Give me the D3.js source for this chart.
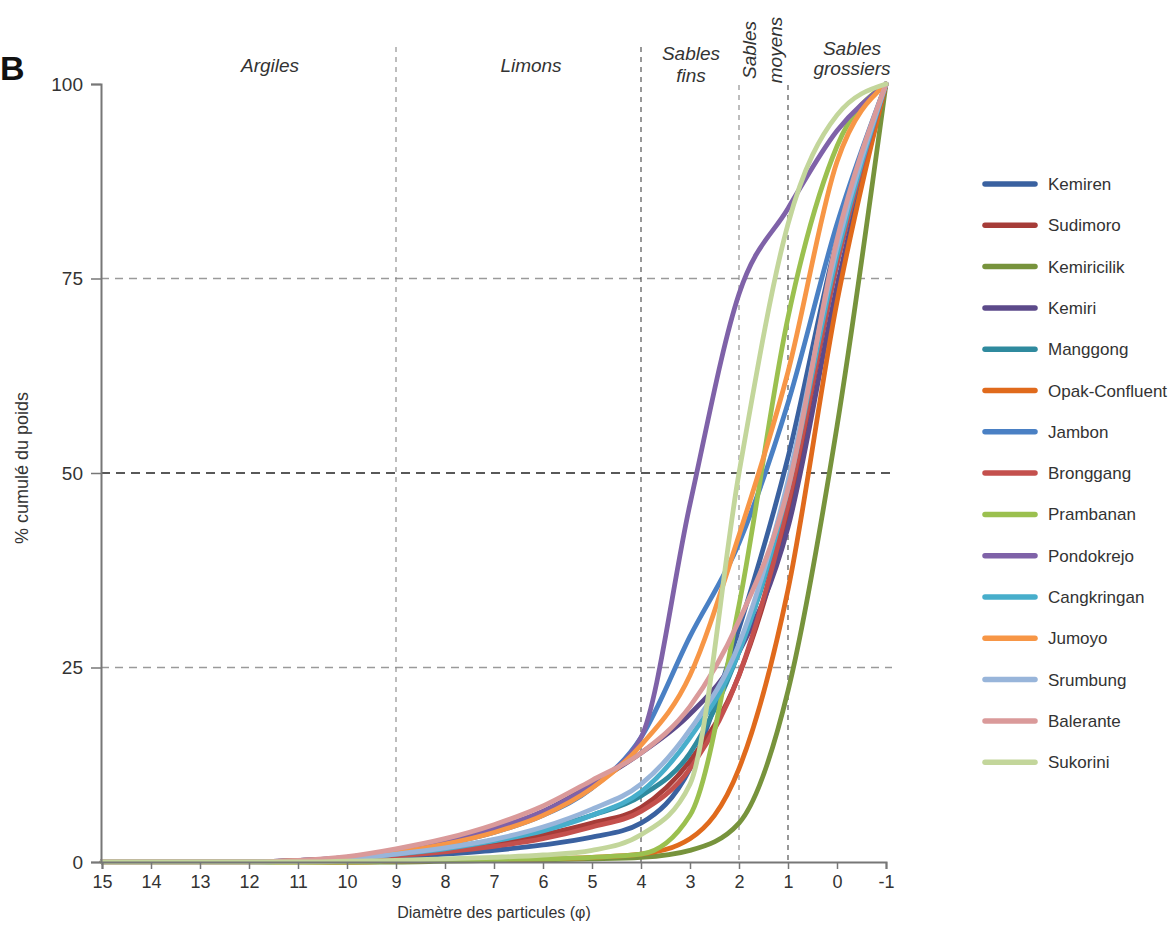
<!DOCTYPE html>
<html><head><meta charset="utf-8">
<script src="https://cdn.jsdelivr.net/npm/d3@7"></script>
<style>
html,body{margin:0;padding:0;background:#fff;}
text{font-family:"Liberation Sans",Arial,sans-serif;}
</style></head>
<body>
<svg id="chart" width="1173" height="933"></svg>
<script>
const phi = [15,14,13,12,11,10,9,8,7,6,5,4,3,2,1,0,-1];
const seriesNames = ["Kemiren","Sudimoro","Kemiricilik","Kemiri","Manggong","Opak-Confluent","Jambon","Bronggang","Prambanan","Pondokrejo","Cangkringan","Jumoyo","Srumbung","Balerante","Sukorini"];
const seriesColors = ["#3A61A0","#A63C38","#77933C","#5C4A8A","#2F8A9E","#E06A1C","#4A80C4","#C4504D","#9BC04F","#7F62A8","#47AECB","#F79646","#98B5DA","#DA9A9A","#C3D69B"];
const kemiren        = [0,0,0,0,0.1,0.3,0.6,1,1.5,2.2,3.2,5,12,30,52,80,100];
const sudimoro       = [0,0,0,0,0.1,0.4,0.9,1.5,2.3,3.5,5,7,13,24,45,77,100];
const kemiricilik    = [0,0,0,0,0,0,0,0.1,0.2,0.3,0.4,0.6,1.5,5,22,56,100];
const kemiri         = [0,0,0,0,0.2,0.6,1.5,2.7,4.2,6.5,10,14,19,27,43,74,100];
const manggong       = [0,0,0,0,0.1,0.4,1,1.8,2.8,4.2,6,8.5,14,27,47,77,100];
const opakConfluent  = [0,0,0,0,0,0,0.1,0.2,0.3,0.4,0.6,1,3,12,35,72,100];
const jambon         = [0,0,0,0,0.2,0.5,1.2,2.3,3.8,6,9.5,16,29,41,59,82,100];
const bronggang      = [0,0,0,0,0.1,0.3,0.8,1.3,2,3,4.5,6.5,12,24,46,77,100];
const prambanan      = [0,0,0,0,0,0,0.1,0.2,0.3,0.4,0.6,1,6,33,70,92,100];
const pondokrejo     = [0,0,0,0,0.2,0.6,1.5,2.7,4.3,6.5,10,16,46,73,84,94,100];
const cangkringan    = [0,0,0,0,0.1,0.4,1,1.7,2.7,4,6,9,16,27,48,78,100];
const jumoyo         = [0,0,0,0,0.2,0.5,1.2,2.3,3.8,6,9.5,15,24,42,63,90,100];
const srumbung       = [0,0,0,0,0.1,0.4,1,1.8,2.9,4.5,6.8,10,17,28,49,79,100];
const balerante      = [0,0,0,0,0.2,0.7,1.7,3,4.8,7.2,10.5,14,20,31,48,80,100];
const sukorini       = [0,0,0,0,0,0.1,0.2,0.4,0.6,0.9,1.5,3.5,10,50,82,96,100];
const seriesValues = [kemiren,sudimoro,kemiricilik,kemiri,manggong,opakConfluent,jambon,bronggang,prambanan,pondokrejo,cangkringan,jumoyo,srumbung,balerante,sukorini];
const yTicks = [0,25,50,75,100];
const xTicks = [15,14,13,12,11,10,9,8,7,6,5,4,3,2,1,0,-1];
const classBounds = [9,4,2,1];

const svg = d3.select("#chart");
const x = d3.scaleLinear().domain([15,-1]).range([102,886]);
const y = d3.scaleLinear().domain([0,100]).range([862,84]);

// horizontal grid
[25,50,75].forEach(v=>{
  svg.append("line").attr("x1",101).attr("x2",892).attr("y1",y(v)).attr("y2",y(v))
    .attr("stroke", v===50?"#222":"#9a9a9a").attr("stroke-width",1.4)
    .attr("stroke-dasharray", v===50?"9,6":"8,6");
});
// vertical class boundaries
classBounds.forEach(p=>{
  const top = (p===9||p===4)?47:85;
  const dark = (p===4||p===1);
  svg.append("line").attr("x1",x(p)).attr("x2",x(p)).attr("y1",top).attr("y2",862)
    .attr("stroke",dark?"#444":"#888").attr("stroke-width",1.1).attr("stroke-dasharray","5,5");
});

// curves
const line = d3.line().x((d,i)=>x(phi[i])).y(d=>y(d)).curve(d3.curveMonotoneX);
seriesValues.forEach((vals,k)=>{
  svg.append("path").attr("d",line(vals)).attr("fill","none")
    .attr("stroke",seriesColors[k]).attr("stroke-width",4.8)
    .attr("stroke-linejoin","round").attr("stroke-linecap","round");
});

// axes
const yAxis = d3.axisLeft(y).tickValues(yTicks).tickSize(10).tickPadding(8);
const gy = svg.append("g").attr("transform","translate(101,0)").call(yAxis);
gy.select(".domain").attr("stroke","#777").attr("stroke-width",2);
gy.selectAll(".tick line").attr("stroke","#777").attr("stroke-width",1.5);
gy.selectAll(".tick text").attr("font-size",19).attr("fill","#333").attr("font-family","Liberation Sans, Arial, sans-serif");

const xAxis = d3.axisBottom(x).tickValues(xTicks).tickSize(7).tickPadding(6).tickFormat(d=>String(d));
const gx = svg.append("g").attr("transform","translate(0,862)").call(xAxis);
gx.select(".domain").attr("stroke","#777").attr("stroke-width",2);
gx.selectAll(".tick line").attr("stroke","#777").attr("stroke-width",1.5);
gx.selectAll(".tick text").attr("font-size",18).attr("fill","#333").attr("font-family","Liberation Sans, Arial, sans-serif");

// axis titles
svg.append("text").attr("x",494).attr("y",918).attr("text-anchor","middle")
  .attr("font-size",16).attr("fill","#333").text("Diamètre des particules (φ)");
svg.append("text").attr("transform","translate(28,468) rotate(-90)").attr("text-anchor","middle")
  .attr("font-size",18).attr("fill","#333").text("% cumulé du poids");

// panel letter
svg.append("text").attr("x",0).attr("y",80).attr("text-anchor","start")
  .attr("font-size",34).attr("font-weight","bold").attr("fill","#111").text("B");

// zone labels
const zoneStyle = s=>s.attr("font-size",19).attr("font-style","italic").attr("fill","#333").attr("text-anchor","middle");
zoneStyle(svg.append("text").attr("x",270).attr("y",72).text("Argiles"));
zoneStyle(svg.append("text").attr("x",531).attr("y",72).text("Limons"));
zoneStyle(svg.append("text").attr("x",691).attr("y",60).text("Sables"));
zoneStyle(svg.append("text").attr("x",691).attr("y",82).text("fins"));
zoneStyle(svg.append("text").attr("transform","translate(756,50) rotate(-90)").text("Sables"));
zoneStyle(svg.append("text").attr("transform","translate(782,50) rotate(-90)").text("moyens"));
zoneStyle(svg.append("text").attr("x",852).attr("y",55).text("Sables"));
zoneStyle(svg.append("text").attr("x",852).attr("y",75).text("grossiers"));

// legend
const lg = svg.append("g");
seriesNames.forEach((n,k)=>{
  const yy = 184 + k*41.3;
  lg.append("line").attr("x1",985).attr("x2",1035).attr("y1",yy).attr("y2",yy)
    .attr("stroke",seriesColors[k]).attr("stroke-width",5.5).attr("stroke-linecap","round");
  lg.append("text").attr("x",1048).attr("y",yy+6).attr("font-size",17).attr("fill","#333").text(n);
});
</script>
</body></html>
